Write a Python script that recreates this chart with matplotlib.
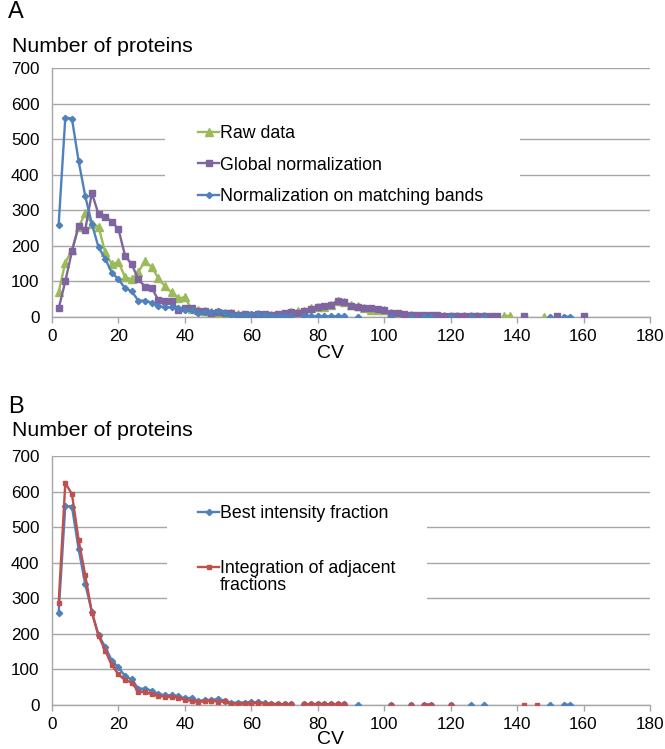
import numpy as np
import matplotlib
matplotlib.use('Agg')
import matplotlib.pyplot as plt
from matplotlib.patches import Rectangle

plt.rcParams['font.family'] = ['Liberation Sans', 'DejaVu Sans']

nan = np.nan

##############################################################################
# Data (CV in steps of 2, NaN where no point is drawn)
cv = np.arange(2, 162, 2)

raw_data = [
    70, 153, 188, 252, 292, 262, 254, 182, 148, 155,
    112, 106, 127, 157, 140, 110, 86, 69, 53, 55,
    22, 20, 17, 14, 12, 12, 10, 8, 7, 4,
    8, 6, 5, 6, 8, 14, 18, 16, 24, 28,
    27, 33, 45, 42, 34, 30, 24, 21, 21, 20,
    12, 9, 6, 5, 2, 4, 4, 3, 4, 3,
    3, 3, 2, 3, 2, nan, nan, 3, 3, nan,
    1, nan, nan, 1, nan, nan, nan, nan, nan, 1]

global_norm = [
    24, 100, 185, 256, 245, 349, 289, 282, 268, 247,
    172, 148, 106, 85, 82, 48, 45, 45, 20, 25,
    25, 18, 16, 10, 14, 12, 10, 6, 8, 6,
    8, 8, 6, 9, 10, 15, 12, 17, 22, 29,
    31, 34, 46, 43, 31, 29, 26, 24, 22, 20,
    10, 10, 8, 7, 6, 5, 5, 5, 4, 4,
    4, 4, 4, 4, 4, 4, 4, nan, nan, nan,
    2, nan, nan, nan, nan, 2, nan, nan, nan, 2]

matching_bands = [
    259, 560, 558, 439, 340, 262, 196, 164, 125, 106,
    81, 72, 46, 46, 40, 30, 28, 27, 25, 19,
    20, 11, 14, 14, 17, 12, 6, 7, 7, 8,
    8, 6, 3, 3, 2, 2, nan, 2, 2, 3,
    2, 2, 2, 2, nan, 1, nan, nan, nan, nan,
    1, nan, nan, 1, nan, 1, 1, nan, nan, 1,
    nan, nan, 1, nan, 1, nan, nan, nan, nan, nan,
    nan, nan, nan, nan, 1, nan, 1, 1, nan, nan]

# best intensity fraction is the same series as in panel A
best_fraction = matching_bands

adjacent = [
    286, 624, 593, 465, 365, 260, 195, 153, 112, 86,
    70, 63, 37, 37, 30, 26, 23, 22, 21, 14,
    12, 9, 10, 12, 9, 10, 4, 4, 4, 5,
    6, 4, 2, 2, 2, 2, nan, 2, 2, 2,
    2, 2, 2, 2, nan, nan, nan, nan, nan, nan,
    1, nan, nan, 1, nan, 1, 1, nan, nan, 1,
    nan, nan, nan, nan, nan, nan, nan, nan, nan, nan,
    1, nan, 1, nan, nan, nan, nan, nan, nan, nan]

##############################################################################
# Plot
W, H = 665, 749
fig = plt.figure(figsize=(W / 100, H / 100), dpi=100)

grid_col = '#a6a6a6'
leg_fs = 12.8
tick_fs = 12.3


def px_axes(left, top, right, bottom):
    return fig.add_axes([left / W, 1 - bottom / H, (right - left) / W,
                         (bottom - top) / H])


def style(ax, cover):
    ax.set_xlim(0, 180)
    ax.set_ylim(0, 700)
    ax.set_xticks(range(0, 181, 20))
    ax.set_yticks(range(0, 701, 100))
    ax.yaxis.grid(True, color=grid_col, linewidth=1)
    ax.set_axisbelow(True)
    for s in ['top', 'right']:
        ax.spines[s].set_visible(False)
    for s in ['left', 'bottom']:
        ax.spines[s].set_color(grid_col)
        ax.spines[s].set_linewidth(1)
    ax.tick_params(axis='x', direction='out', length=4, width=1,
                   color=grid_col, pad=4.5, labelsize=tick_fs)
    ax.tick_params(axis='y', length=0, pad=9, labelsize=tick_fs)
    # white box behind the legend hides part of the gridlines
    x0, y0, x1, y1 = cover
    ax.add_patch(Rectangle((x0, y0), x1 - x0, y1 - y0, facecolor='white',
                           edgecolor='none', zorder=1))


green = '#9bbb59'
purple = '#8064a2'
blue = '#4f81bd'
red = '#c0504d'

# Panel A
ax1 = px_axes(52, 68, 650, 317)
style(ax1, (34, 330, 141, 560))
ax1.plot(cv, raw_data, color=green, lw=1.7, marker='^', ms=6,
         label='Raw data', zorder=3)
ax1.plot(cv, global_norm, color=purple, lw=1.7, marker='s', ms=3.8,
         label='Global normalization', zorder=4)
ax1.plot(cv, matching_bands, color=blue, lw=1.7, marker='D', ms=3.2,
         label='Normalization on matching bands', zorder=5)
ax1.legend(loc='upper left', bbox_to_anchor=(0.244, 0.771), frameon=False,
           fontsize=leg_fs, borderpad=0, borderaxespad=0, handlelength=1.2,
           handletextpad=0.05, labelspacing=0.82)

# Panel B
ax2 = px_axes(52, 456, 650, 705)
style(ax2, (34.5, 230, 113, 560))
ax2.plot(cv, best_fraction, color=blue, lw=1.7, marker='D', ms=3.2,
         label='Best intensity fraction', zorder=3)
ax2.plot(cv, adjacent, color=red, lw=1.7, marker='s', ms=3.5,
         label='Integration of adjacent', zorder=4)
ax2.legend(loc='upper left', bbox_to_anchor=(0.244, 0.803), frameon=False,
           fontsize=leg_fs, borderpad=0, borderaxespad=0, handlelength=1.2,
           handletextpad=0.05, labelspacing=2.12)
fig.text(220 / W, 1 - 585 / H, 'fractions', fontsize=leg_fs, va='center')

# labels
fig.text(8 / W, 1 - 12 / H, 'A', fontsize=17, va='center')
fig.text(12 / W, 1 - 46 / H, 'Number of proteins', fontsize=15.3, va='center')
fig.text(331 / W, 1 - 354 / H, 'CV', fontsize=14, ha='center', va='center')
fig.text(8 / W, 1 - 407 / H, 'B', fontsize=17, va='center')
fig.text(12 / W, 1 - 431 / H, 'Number of proteins', fontsize=15.3, va='center')
fig.text(331 / W, 1 - 740 / H, 'CV', fontsize=14, ha='center', va='center')

fig.savefig('out.png', dpi=100)
